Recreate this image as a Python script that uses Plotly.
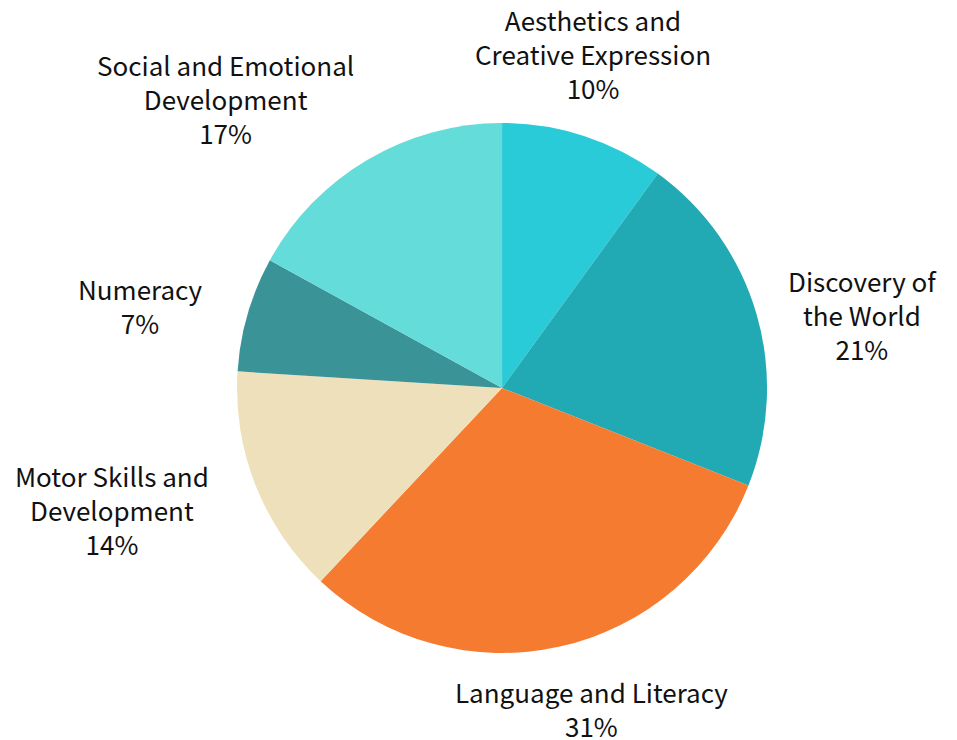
import plotly.graph_objects as go

categories = [
    "Aesthetics and<br>Creative Expression",
    "Discovery of<br>the World",
    "Language and Literacy",
    "Motor Skills and<br>Development",
    "Numeracy",
    "Social and Emotional<br>Development",
]
values = [10, 21, 31, 14, 7, 17]
colors = ["#2ACBD9", "#21A9B4", "#F47B30", "#EDE0BA", "#3A9396", "#63DCDA"]

# label block centres (layout, in pixels of the 957x740 page)
label_px = [(593, 53), (862, 314), (591, 708), (112, 510), (140, 305), (225, 99)]

W, H = 957, 740
fig = go.Figure(
    go.Pie(
        labels=categories,
        values=values,
        sort=False,
        direction="clockwise",
        rotation=0,
        marker=dict(colors=colors, line=dict(width=0)),
        textinfo="none",
        hoverinfo="label+percent",
        domain=dict(x=[0.2477, 0.8015], y=[0.1176, 0.8338]),
        showlegend=False,
    )
)

total = sum(values)
for lab, v, (px, py) in zip(categories, values, label_px):
    fig.add_annotation(
        x=px / W,
        y=1 - py / H,
        xref="paper",
        yref="paper",
        xanchor="center",
        yanchor="middle",
        align="center",
        showarrow=False,
        text=f"{lab}<br>{round(100 * v / total)}%",
        font=dict(family="Noto Sans CJK SC", size=26, color="#111111"),
    )

fig.update_layout(
    width=W,
    height=H,
    margin=dict(l=0, r=0, t=0, b=0),
    paper_bgcolor="white",
    plot_bgcolor="white",
    showlegend=False,
)
fig.write_html("out.html")
